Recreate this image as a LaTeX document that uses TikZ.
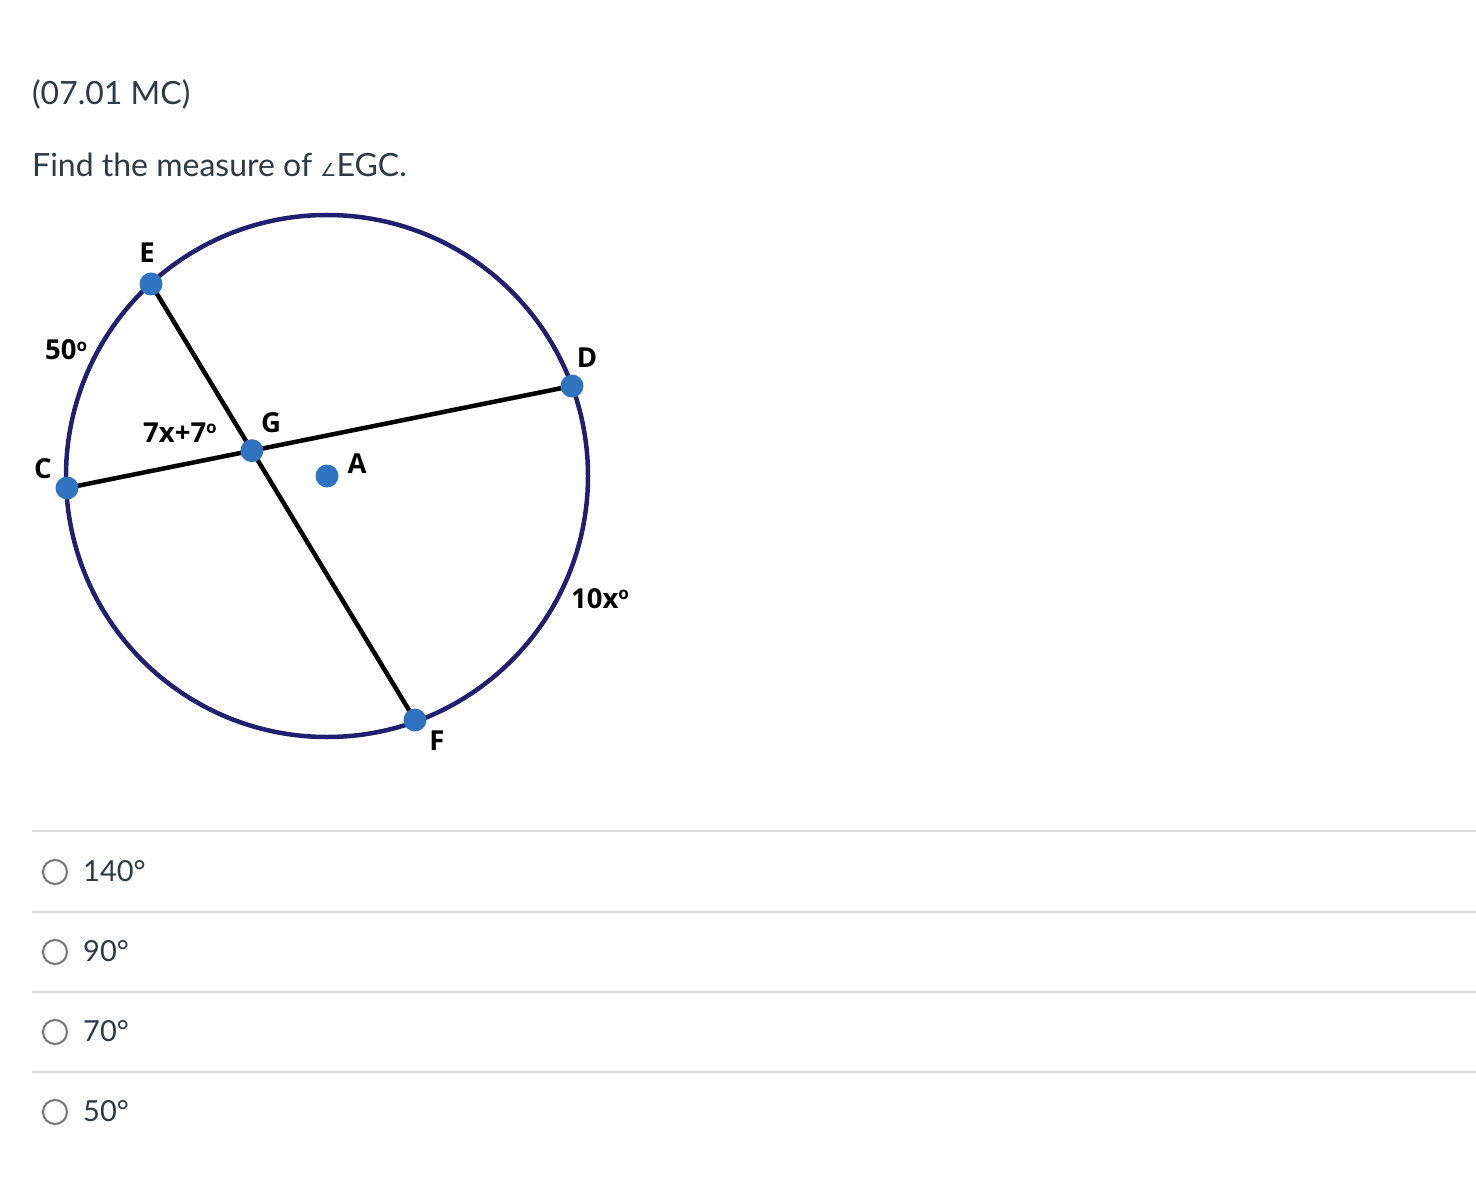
\documentclass[tikz,border=0pt]{standalone}
\usepackage{fontspec}
\setmainfont{Lato}
\newfontfamily\lblfont{Open Sans}
\newfontfamily\symfont{DejaVu Sans}
\definecolor{txt}{HTML}{2D3B45}
\definecolor{navy}{RGB}{34,30,112}
\definecolor{dotblue}{RGB}{47,115,193}
\definecolor{rule}{RGB}{221,221,221}
\definecolor{radio}{RGB}{118,118,118}
\newcommand\lbldeg{\raisebox{0.55ex}{\fontsize{17}{17}\selectfont o}}
\begin{document}
\begin{tikzpicture}[x=1pt,y=-1pt,
  qtext/.style={anchor=base west,inner sep=0pt,text=txt,font=\fontsize{29}{34}\selectfont},
  lbl/.style={anchor=base,inner sep=0pt,text=black,font=\lblfont\bfseries\fontsize{27.5}{32}\selectfont},
  lblw/.style={lbl,anchor=base west},
  ptdot/.style={circle,fill=dotblue,minimum size=23pt,inner sep=0pt},
  chord/.style={line width=4.5pt,black},
  radiobtn/.style={circle,draw=radio,line width=2pt,minimum size=24pt,inner sep=0pt},
  sep/.style={draw=rule,line width=2pt}]
\useasboundingbox[fill=white] (0,0) rectangle (1476,1182);
% header
\node[qtext,font=\fontsize{32}{38}\selectfont] (hdr) at (32,105) {(07.01 MC)};
\node[qtext,font=\fontsize{32}{38}\selectfont] (q) at (32,177) {Find the measure of {\symfont\fontsize{18}{20}\selectfont ∠}EGC.};
% circle
\coordinate (Actr) at (327,476);
\draw[navy,line width=4.5pt] (Actr) circle[radius=261];
\coordinate (pE) at (151,284);
\coordinate (pD) at (572,386);
\coordinate (pC) at (67,488);
\coordinate (pF) at (415,720);
\coordinate (pG) at (intersection of pC--pD and pE--pF);
\draw[chord] (pC) -- (pD);
\draw[chord] (pE) -- (pF);
\node[ptdot] (E) at (pE) {};
\node[ptdot] (D) at (pD) {};
\node[ptdot] (C) at (pC) {};
\node[ptdot] (F) at (pF) {};
\node[ptdot] (G) at (pG) {};
\node[ptdot] (A) at (Actr) {};
% labels
\node[lbl] (lE) at (147,263) {E};
\node[lbl] (lD) at (587,368) {D};
\node[lbl] (lC) at (43,478) {C};
\node[lbl] (lG) at (271,432) {G};
\node[lbl] (lA) at (357,473) {A};
\node[lbl] (lF) at (437,750) {F};
\node[lblw] (l50) at (45,360) {50\lbldeg};
\node[lblw] (l7x) at (143,442) {7x+7\lbldeg};
\node[lblw] (l10x) at (571,608) {10x\lbldeg};
% answer rows
\draw[sep] (32,831) -- (1476,831);
\draw[sep] (32,912) -- (1476,912);
\draw[sep] (32,992) -- (1476,992);
\draw[sep] (32,1072) -- (1476,1072);
\node[radiobtn] (r1) at (55,872) {};
\node[radiobtn] (r2) at (55,952) {};
\node[radiobtn] (r3) at (55,1032) {};
\node[radiobtn] (r4) at (55,1112) {};
\node[qtext] (o1) at (83,881) {140°};
\node[qtext] (o2) at (83,961) {90°};
\node[qtext] (o3) at (83,1041) {70°};
\node[qtext] (o4) at (83,1121) {50°};
\end{tikzpicture}
\end{document}
